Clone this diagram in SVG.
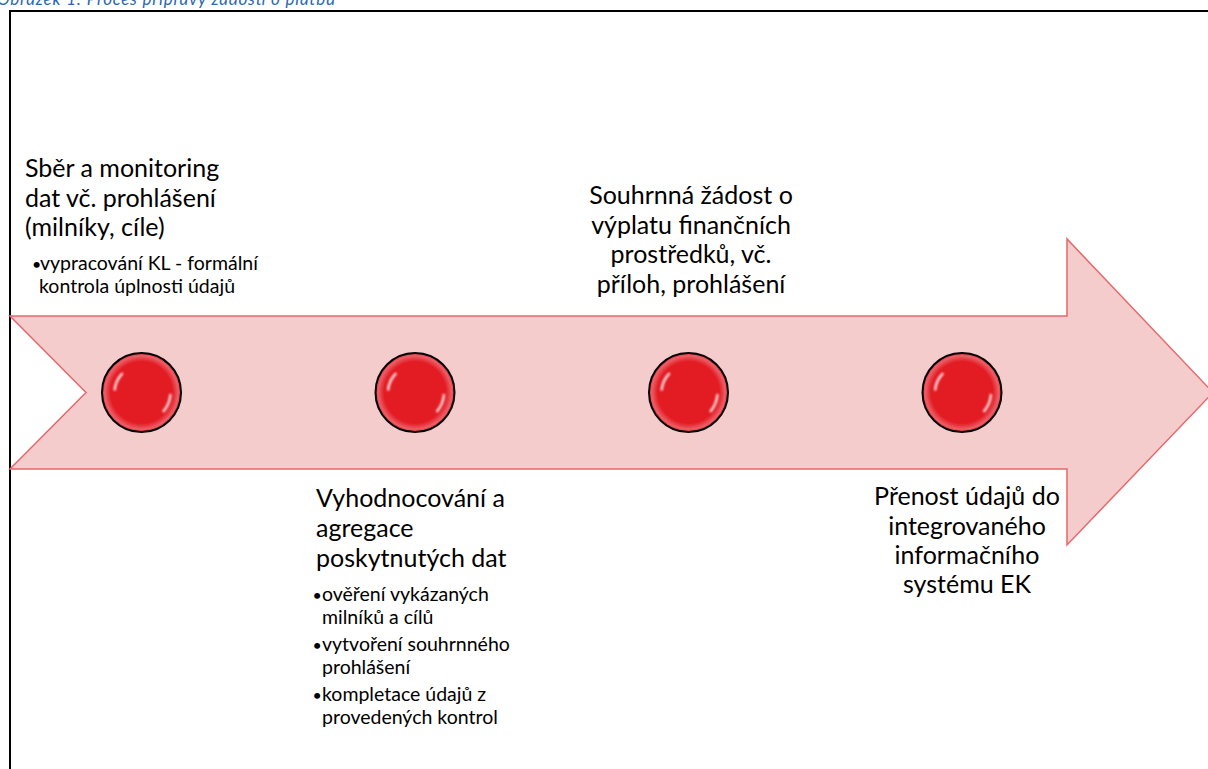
<svg xmlns="http://www.w3.org/2000/svg" width="1208" height="769" viewBox="0 0 1208 769">
<defs>
<style>
.h{font-family:Lato,"Open Sans","Liberation Sans",sans-serif;font-size:25px;fill:#000}
.b{font-family:Lato,"Open Sans","Liberation Sans",sans-serif;font-size:19.5px;fill:#000}
.d{font-family:Lato,"Open Sans","Liberation Sans",sans-serif;font-size:16px;fill:#000}
.c{text-anchor:middle}
.cap{font-family:Lato,"Open Sans","Liberation Sans",sans-serif;font-size:17px;font-style:italic;fill:#2A68B0}
.ball{fill:url(#ballGrad);stroke:#000;stroke-width:2}
.hl{fill:none;stroke:#fff;stroke-width:2.5;stroke-linecap:round;opacity:0.85;filter:url(#soft)}
</style>
<radialGradient id="ballGrad" cx="50%" cy="50%" r="50%">
<stop offset="0" stop-color="#E31B23"/>
<stop offset="0.78" stop-color="#E31B23"/>
<stop offset="0.93" stop-color="#EC5E66"/>
<stop offset="1" stop-color="#E2303A"/>
</radialGradient>
<filter id="soft" x="-50%" y="-50%" width="200%" height="200%"><feGaussianBlur stdDeviation="0.8"/></filter>
<g id="ballShape">
<circle class="ball" cx="0" cy="0" r="39.5"/>
<path class="hl" d="M -26.8 -3 A 27 27 0 0 1 -19.5 -18.7"/>
<path class="hl" d="M 28.9 2.5 A 29 29 0 0 1 22.2 18.6"/>
</g>
</defs>
<rect width="1208" height="769" fill="#fff"/>
<text class="cap" x="-3" y="5" textLength="338">Obrázek 1: Proces přípravy žádosti o platbu</text>
<rect x="10" y="11" width="1220" height="780" fill="none" stroke="#000" stroke-width="2"/>
<g id="timeline-arrow">
<polygon points="10,316 1067,316 1067,239 1213,392.5 1067,545 1067,469 10,469 86,392.5" fill="#F4CCCC" stroke="#E8676B" stroke-width="1.5" stroke-linejoin="miter"/>
</g>
<g id="connectors"></g>
<g id="stage1">
<use href="#ballShape" x="141.5" y="392.5"/>
<text class="h" x="25" y="177">Sběr a monitoring</text>
<text class="h" x="25" y="206.5">dat vč. prohlášení</text>
<text class="h" x="25" y="236">(milníky, cíle)</text>
<text class="d" x="32" y="270">•</text>
<text class="b" x="40" y="270">vypracování KL - formální</text>
<text class="b" x="39" y="293">kontrola úplnosti údajů</text>
</g>
<g id="stage2">
<use href="#ballShape" x="415" y="392.5"/>
<text class="h" x="316" y="507">Vyhodnocování a</text>
<text class="h" x="316" y="537">agregace</text>
<text class="h" x="316" y="566.5">poskytnutých dat</text>
<text class="d" x="312.5" y="601">•</text>
<text class="b" x="322" y="601">ověření vykázaných</text>
<text class="b" x="322" y="624">milníků a cílů</text>
<text class="d" x="312.5" y="651">•</text>
<text class="b" x="322" y="651">vytvoření souhrnného</text>
<text class="b" x="322" y="674">prohlášení</text>
<text class="d" x="312.5" y="700.5">•</text>
<text class="b" x="322" y="700.5">kompletace údajů z</text>
<text class="b" x="322" y="723.5">provedených kontrol</text>
</g>
<g id="stage3">
<use href="#ballShape" x="688.5" y="392.5"/>
<text class="h c" x="691" y="204">Souhrnná žádost o</text>
<text class="h c" x="691" y="233.5">výplatu finančních</text>
<text class="h c" x="691" y="263">prostředků, vč.</text>
<text class="h c" x="691" y="292.5">příloh, prohlášení</text>
</g>
<g id="stage4">
<use href="#ballShape" x="962" y="392.5"/>
<text class="h c" x="967" y="505">Přenost údajů do</text>
<text class="h c" x="967" y="534.5">integrovaného</text>
<text class="h c" x="967" y="564">informačního</text>
<text class="h c" x="967" y="593">systému EK</text>
</g>
</svg>
